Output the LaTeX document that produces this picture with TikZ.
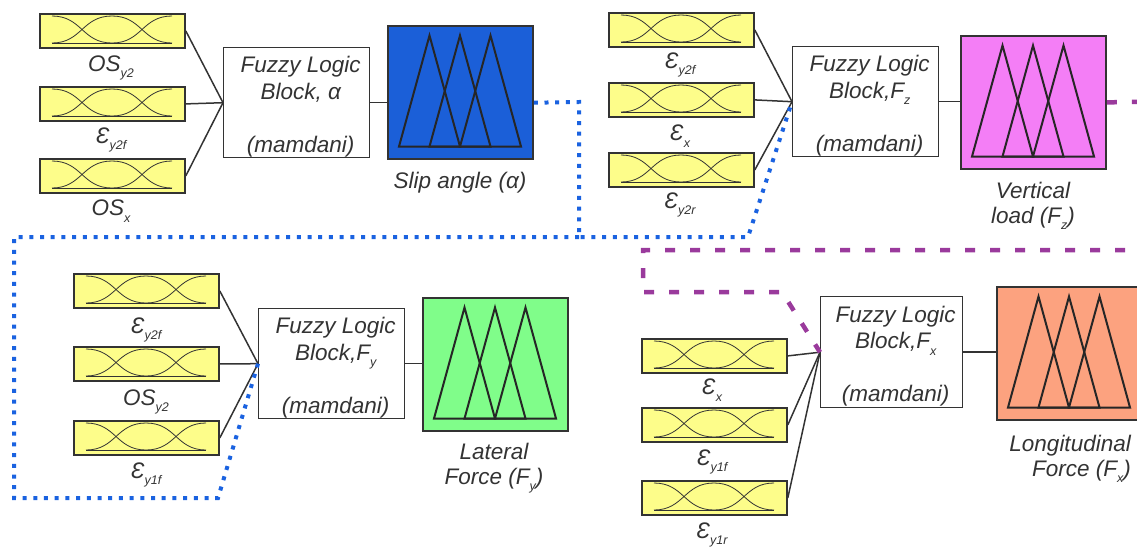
\documentclass[tikz,border=0pt]{standalone}
\usepackage{fontspec}
\setmainfont{Liberation Sans}
\usetikzlibrary{calc}
\definecolor{ink}{HTML}{333333}
\definecolor{yfill}{HTML}{FDFD8A}
\definecolor{bluef}{HTML}{1B5FD8}
\definecolor{magf}{HTML}{F47EF6}
\definecolor{greenf}{HTML}{80FD8A}
\definecolor{salf}{HTML}{FCA27F}
\definecolor{dotblue}{HTML}{1A62E0}
\definecolor{dashpurple}{HTML}{9A3A9C}
\tikzset{
 ybox/.style={draw=ink, line width=1.8pt, fill=yfill, minimum width=145pt, minimum height=34pt, inner sep=0pt, anchor=north west},
 mf/.style={draw=ink, line width=0.8pt},
 fuzzybox/.style={draw=ink, line width=1.4pt, fill=white, minimum width=146pt, minimum height=110pt, inner sep=0pt, anchor=north west},
 ftext/.style={inner sep=0pt, align=center, font=\fontsize{22.5}{26.5}\selectfont\itshape, text=ink},
 obox/.style={draw=ink, line width=1.8pt, minimum width=145pt, minimum height=133pt, inner sep=0pt, anchor=north west},
 tri/.style={draw=black!85, line width=2pt, line join=miter},
 wire/.style={draw=ink, line width=1.5pt},
 lbl/.style={font=\fontsize{22.5}{25}\selectfont\itshape, text=ink, inner sep=0pt, align=center},
 bdot/.style={draw=dotblue, line width=4pt, dash pattern=on 4pt off 6.7pt},
 pdash/.style={draw=dashpurple, line width=4.5pt, dash pattern=on 10pt off 15pt},
}
\newcommand\sbs[1]{\raisebox{-0.28em}{\fontsize{12.5}{12.5}\selectfont #1}}
\newcommand\ybx[3]{%
 \node[ybox] (#1) at (#2,#3) {};
 \begin{scope}[shift={(#2,#3)}]
  \draw[mf] (13,3) .. controls (43,3) and (43,30) .. (73,30);
  \draw[mf] (13,30) .. controls (43,30) and (43,3) .. (73,3) .. controls (103,3) and (103,30) .. (133,30);
  \draw[mf] (73,30) .. controls (103,30) and (103,3) .. (133,3);
  \draw[mf, line width=1.4pt] (13,30.5) -- (133,30.5);
 \end{scope}}
\newcommand\obx[4]{%
 \node[obox, fill=#4] (#1) at (#2,#3) {};
 \begin{scope}[shift={(#2,#3)}]
  \foreach \d in {0,30.5,61} \draw[tri] (12+\d,121.5) -- (42.5+\d,10.5) -- (73+\d,121.5) -- cycle;
 \end{scope}}
\begin{document}
\begin{tikzpicture}[x=1pt,y=-1pt]
\useasboundingbox (0,0) rectangle (1137,547);
% ---- Block A (slip angle)
\ybx{YA1}{39}{13}
\ybx{YA2}{39}{86}
\ybx{YA3}{39}{158}
\node[lbl] (lA1) at (111,68) {OS\sbs{y2}};
\node[lbl] (lA2) at (111,140) {Ɛ\sbs{y2f}};
\node[lbl] (lA3) at (111,211) {OS\sbs{x}};
\node[fuzzybox] (FA) at (223,47) {};
\node[ftext] (tFA) at ($(FA.center)+(4,4)$) {Fuzzy Logic\\Block, α\\[26.5pt](mamdani)};
\obx{OA}{387}{25}{bluef}
\node[lbl] (lAo) at (460,183) {Slip angle (α)};
\draw[wire] (YA1.east) -- (FA.west);
\draw[wire] (YA2.east) -- (FA.west);
\draw[wire] (YA3.east) -- (FA.west);
\draw[wire] (FA.east) -- (FA.east -| OA.west);
% ---- Block B (vertical load)
\ybx{YB1}{608}{12}
\ybx{YB2}{608}{82}
\ybx{YB3}{608}{152}
\node[lbl] (lB1) at (680,65) {Ɛ\sbs{y2f}};
\node[lbl] (lB2) at (680,136) {Ɛ\sbs{x}};
\node[lbl] (lB3) at (680,205) {Ɛ\sbs{y2r}};
\node[fuzzybox] (FB) at (792,46) {};
\node[ftext] (tFB) at ($(FB.center)+(4,4)$) {Fuzzy Logic\\Block,F\sbs{z}\\[26.5pt](mamdani)};
\obx{OB}{960}{35}{magf}
\node[lbl] (lBo) at (1033,206) {Vertical\\load (F\sbs{z})};
\draw[wire] (YB1.east) -- (FB.west);
\draw[wire] (YB2.east) -- (FB.west);
\draw[wire] (YB3.east) -- (FB.west);
\draw[wire] (FB.east) -- (FB.east -| OB.west);
% ---- Block C (lateral force)
\ybx{YC1}{73}{273}
\ybx{YC2}{73}{346}
\ybx{YC3}{73}{420}
\node[lbl] (lC1) at (146,330) {Ɛ\sbs{y2f}};
\node[lbl] (lC2) at (146,402) {OS\sbs{y2}};
\node[lbl] (lC3) at (146,475) {Ɛ\sbs{y1f}};
\node[fuzzybox] (FC) at (258,308) {};
\node[ftext] (tFC) at ($(FC.center)+(4,4)$) {Fuzzy Logic\\Block,F\sbs{y}\\[26.5pt](mamdani)};
\obx{OC}{422}{297}{greenf}
\node[lbl] (lCo) at (494,468) {Lateral\\Force (F\sbs{y})};
\draw[wire] (YC1.east) -- (FC.west);
\draw[wire] (YC2.east) -- (FC.west);
\draw[wire] (YC3.east) -- (FC.west);
\draw[wire] (FC.east) -- (FC.east -| OC.west);
% ---- Block D (longitudinal force)
\ybx{YD1}{641}{338}
\ybx{YD2}{641}{407}
\ybx{YD3}{641}{480}
\node[lbl] (lD1) at (712,390) {Ɛ\sbs{x}};
\node[lbl] (lD2) at (712,462) {Ɛ\sbs{y1f}};
\node[lbl] (lD3) at (712,535) {Ɛ\sbs{y1r}};
\node[fuzzybox, minimum width=142pt, minimum height=111pt] (FD) at (820,296) {};
\node[ftext] (tFD) at ($(FD.center)+(4,4)$) {Fuzzy Logic\\Block,F\sbs{x}\\[26.5pt](mamdani)};
\obx{OD}{996}{286}{salf}
\node[lbl, align=right, anchor=east] (lDo) at (1131,459) {Longitudinal\\Force (F\sbs{x})};
\draw[wire] (YD1.east) -- (FD.west);
\draw[wire] (YD2.east) -- (FD.west);
\draw[wire] (YD3.east) -- (FD.west);
\draw[wire] (FD.east) -- (FD.east -| OD.west);
% ---- blue dotted feedback (slip angle)
\coordinate (b1) at (579,102);
\coordinate (bj) at (579,237);
\coordinate (b2) at (748,237);
\coordinate (b3) at (14,237);
\coordinate (b4) at (14,498);
\coordinate (b5) at (218,498);
\draw[bdot] (FA.east -| OA.east) -- (b1) -- (bj) -- (b2) -- (FB.west);
\draw[bdot] (bj) -- (b3) -- (b4) -- (b5) -- (FC.west);
% ---- purple dashed feedback (vertical load)
\coordinate (p0) at (1150,101.5);
\coordinate (p1) at (1150,250);
\coordinate (p2) at (643,250);
\coordinate (p3) at (643,292);
\coordinate (p4) at (782,292);
\draw[pdash] (OB.east) -- (p0);
\draw[pdash] (p1) -- (p2) -- (p3) -- (p4) -- (FD.west);
\end{tikzpicture}
\end{document}
